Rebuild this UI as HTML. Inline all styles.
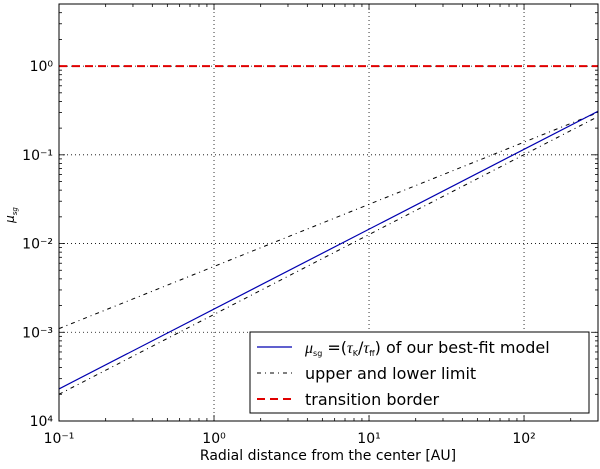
<!DOCTYPE html>
<html><head><meta charset="utf-8"><style>
body{margin:0;background:#fff;}
svg text{font-family:"DejaVu Sans","Liberation Sans",sans-serif;}
</style></head><body>
<svg id="chart" width="600" height="464" xmlns="http://www.w3.org/2000/svg"></svg>
<script>
const xData=[0.1,300];
const bestFit=[2.3e-4,0.31];
const upperLimit=[1.1e-3,0.30];
const lowerLimit=[2.0e-4,0.27];
const transition=[1,1];
const xTickExps=[-1,0,1,2];
const yTickExps=[-4,-3,-2,-1,0];
const xLabels=["10⁻¹","10⁰","10¹","10²"];
const yLabels=["10⁴","10⁻³","10⁻²","10⁻¹","10⁰"];

const L=59,R=598,T=4,B=421;
const xmin=Math.log10(0.1),xmax=Math.log10(300),ymin=-4,ymax=0.7;
function sx(v){return L+(Math.log10(v)-xmin)/(xmax-xmin)*(R-L);}
function sy(v){return B-(Math.log10(v)-ymin)/(ymax-ymin)*(B-T);}
const svg=document.getElementById('chart');
const NS="http://www.w3.org/2000/svg";
function mk(tag,attrs,parent){const e=document.createElementNS(NS,tag);for(const k in attrs)e.setAttribute(k,attrs[k]);(parent||svg).appendChild(e);return e;}

// grid
for(const e of xTickExps){const x=sx(Math.pow(10,e));if(x>L+1&&x<R-1){
const g=mk('line',{x1:x,x2:x,y1:T,y2:B,stroke:'#000','stroke-width':0.8,'stroke-dasharray':'1,3'});

}}
for(const e of yTickExps){const y=sy(Math.pow(10,e));if(y>T+1&&y<B-1){
const g=mk('line',{x1:L,x2:R,y1:y,y2:y,stroke:'#000','stroke-width':0.8,'stroke-dasharray':'1,3'});

}}

// ticks
for(let e=-1;e<=2;e++){for(let m=1;m<10;m++){const v=m*Math.pow(10,e);if(v>300)break;const x=sx(v);const len=m==1?6:3;
const t1=mk('line',{x1:x,x2:x,y1:B,y2:B-len,stroke:'#000','stroke-width':0.8});


const t2=mk('line',{x1:x,x2:x,y1:T,y2:T+len,stroke:'#000','stroke-width':0.8});

}}
for(let e=-4;e<=0;e++){for(let m=1;m<10;m++){const v=m*Math.pow(10,e);const y=sy(v);if(y<T)break;const len=m==1?6:3;
const t1=mk('line',{x1:L,x2:L+len,y1:y,y2:y,stroke:'#000','stroke-width':0.8});


const t2=mk('line',{x1:R,x2:R-len,y1:y,y2:y,stroke:'#000','stroke-width':0.8});

}}

// tick labels
xTickExps.forEach((e,i)=>{const t=mk('text',{x:sx(Math.pow(10,e)),y:443,'text-anchor':'middle','font-size':14});t.textContent=xLabels[i];

});
yTickExps.forEach((e,i)=>{const t=mk('text',{x:L-6,y:sy(Math.pow(10,e))+5,'text-anchor':'end','font-size':14});t.textContent=yLabels[i];

});

// series
function series(ys,attrs,name){const pts=xData.map((x,i)=>sx(x)+','+sy(ys[i])).join(' ');
const p=mk('polyline',Object.assign({points:pts,fill:'none'},attrs));

}
series(transition,{stroke:'#e00000','stroke-width':2,'stroke-dasharray':'8,5'},'transition-border-line');
series(upperLimit,{stroke:'#000','stroke-width':1,'stroke-dasharray':'4,4,1,4'},'upper-limit-line');
series(lowerLimit,{stroke:'#000','stroke-width':1,'stroke-dasharray':'4,4,1,4'},'lower-limit-line');
series(bestFit,{stroke:'#0000b0','stroke-width':1.2},'best-fit-line');

// axes frame
const fr=mk('rect',{x:L,y:T,width:R-L,height:B-T,fill:'none',stroke:'#000','stroke-width':1});



// legend
const lg=mk('g',{});


mk('rect',{x:250,y:332,width:339,height:81,fill:'#fff',stroke:'#000','stroke-width':1},lg);
const entries=[['#0000b0','none',1.2,'μ_sg = (τ_K/τ_ff) of our best-fit model'],['#000','4,4,1,4',1,'upper and lower limit'],['#e00000','8,5',2,'transition border']];
entries.forEach((en,i)=>{const y=347+i*26;
const g=mk('g',{},lg);


mk('line',{x1:257,x2:292,y1:y,y2:y,stroke:en[0],'stroke-width':en[2],'stroke-dasharray':en[1]},g);
const t=mk('text',{x:305,y:y+6,'font-size':16},g);
if(i==0){t.innerHTML='<tspan font-style="italic" font-family="Liberation Serif">μ</tspan><tspan font-size="8" dy="3">sg</tspan><tspan dy="-3"> =(</tspan><tspan font-style="italic" font-family="Liberation Serif">τ</tspan><tspan font-size="8" dy="3">K</tspan><tspan dy="-3">/</tspan><tspan font-style="italic" font-family="Liberation Serif">τ</tspan><tspan font-size="8" dy="3">ff</tspan><tspan dy="-3">) of our best-fit model</tspan>';}
else t.textContent=en[3];});

// axis titles
const xt=mk('text',{x:328,y:460,'text-anchor':'middle','font-size':14});xt.textContent='Radial distance from the center [AU]';


const yt=mk('text',{x:14,y:215,'text-anchor':'middle','font-size':12,transform:'rotate(-90 14 215)','font-style':'italic','font-family':'Liberation Serif'});yt.innerHTML='μ<tspan font-size="7" dy="3">sg</tspan>';


</script>
</body></html>
